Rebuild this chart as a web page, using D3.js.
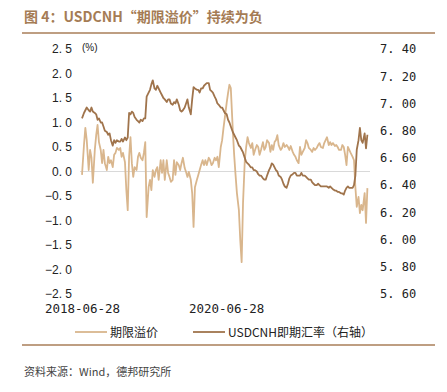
<!DOCTYPE html>
<html>
<head>
<meta charset="utf-8">
<script src="https://cdn.jsdelivr.net/npm/d3@7"></script>
<style>
  body { margin: 0; background: #fff; }
  svg { display: block; font-family: "Liberation Sans", Arial, "Noto Sans CJK SC", sans-serif; }
</style>
</head>
<body>
<div class="canvas"></div>
<script>
// roughly weekly readings (1st, 8th, 15th, 22nd of each month)
const dates = [
  '2018-06-28','2018-07-08','2018-07-15','2018-07-22','2018-08-01','2018-08-08','2018-08-15','2018-08-22','2018-09-01','2018-09-08','2018-09-15','2018-09-22',
  '2018-10-01','2018-10-08','2018-10-15','2018-10-22','2018-11-01','2018-11-08','2018-11-15','2018-11-22','2018-12-01','2018-12-08','2018-12-15','2018-12-22',
  '2019-01-01','2019-01-08','2019-01-15','2019-01-22','2019-02-01','2019-02-08','2019-02-15','2019-02-22','2019-03-01','2019-03-08','2019-03-15','2019-03-22',
  '2019-04-01','2019-04-08','2019-04-15','2019-04-22','2019-05-01','2019-05-08','2019-05-15','2019-05-22','2019-06-01','2019-06-08','2019-06-15','2019-06-22',
  '2019-07-01','2019-07-08','2019-07-15','2019-07-22','2019-08-01','2019-08-08','2019-08-15','2019-08-22','2019-09-01','2019-09-08','2019-09-15','2019-09-22',
  '2019-10-01','2019-10-08','2019-10-15','2019-10-22','2019-11-01','2019-11-08','2019-11-15','2019-11-22','2019-12-01','2019-12-08','2019-12-15','2019-12-22',
  '2020-01-01','2020-01-08','2020-01-15','2020-01-22','2020-02-01','2020-02-08','2020-02-15','2020-02-22','2020-03-01','2020-03-08','2020-03-15','2020-03-22',
  '2020-04-01','2020-04-08','2020-04-15','2020-04-22','2020-05-01','2020-05-08','2020-05-15','2020-05-22','2020-06-01','2020-06-08','2020-06-15','2020-06-22',
  '2020-07-01','2020-07-08','2020-07-15','2020-07-22','2020-08-01','2020-08-08','2020-08-15','2020-08-22','2020-09-01','2020-09-08','2020-09-15','2020-09-22',
  '2020-10-01','2020-10-08','2020-10-15','2020-10-22','2020-11-01','2020-11-08','2020-11-15','2020-11-22','2020-12-01','2020-12-08','2020-12-15','2020-12-22',
  '2021-01-01','2021-01-08','2021-01-15','2021-01-22','2021-02-01','2021-02-08','2021-02-15','2021-02-22','2021-03-01','2021-03-08','2021-03-15','2021-03-22',
  '2021-04-01','2021-04-08','2021-04-15','2021-04-22','2021-05-01','2021-05-08','2021-05-15','2021-05-22','2021-06-01','2021-06-08','2021-06-15','2021-06-22',
  '2021-07-01','2021-07-08','2021-07-15','2021-07-22','2021-08-01','2021-08-08','2021-08-15','2021-08-22','2021-09-01','2021-09-08','2021-09-15','2021-09-22',
  '2021-10-01','2021-10-08','2021-10-15','2021-10-22','2021-11-01','2021-11-08','2021-11-15','2021-11-22','2021-12-01','2021-12-08','2021-12-15','2021-12-22',
  '2022-01-01','2022-01-08','2022-01-15','2022-01-22','2022-02-01','2022-02-08','2022-02-15','2022-02-22','2022-03-01','2022-03-08','2022-03-15','2022-03-22',
  '2022-04-01','2022-04-08','2022-04-15','2022-04-22','2022-05-01','2022-05-08','2022-05-15','2022-05-22','2022-06-01','2022-06-08','2022-06-15'
];

// 期限溢价 (%), left axis
const termPremium = [
  -0.07, 0.54, 0.89, 0.64, 0.03, 0.44, 0.28, -0.23, 0.44, 0.74, 0.95, 0.60,
  0.44, 0.17, 0.44, 0.17, 0.03, 0.30, 0.17, 0.23, 0.09, 0.34, 0.38, 0.48,
  0.44, 0.48, 0.30, 0.38, 0.19, -0.38, -0.79, 0.30, 0.70, 0.17, -0.11, 0.09,
  0.03, 0.30, 0.38, 0.28, 0.23, 0.38, 0.60, -0.93, -0.32, -0.17, -0.38, 0.03,
  -0.11, 0.03, 0.09, -0.17, 0.23, -0.03, 0.23, -0.17, 0.23, -0.03, -0.11, -0.21,
  -0.17, 0.23, -0.07, 0.19, 0.13, 0.03, 0.17, 0.28, 0.07, -0.01, -0.11, -0.01,
  -0.17, -0.44, -1.13, -0.32, -0.17, -0.07, 0.03, 0.13, 0.23, 0.13, 0.23, 0.13,
  0.28, 0.23, 0.13, 0.17, 0.28, 0.23, 0.30, 0.09, 0.50, 0.64, 0.89, 1.11,
  1.40, 1.60, 1.77, 1.70, 0.85, 0.34, -0.07, -0.44, -0.79, -1.40, -1.85, -0.64,
  0.23, 0.50, 0.70, 0.58, 0.48, 0.58, 0.34, 0.44, 0.54, 0.50, 0.34, 0.44,
  0.60, 0.44, 0.50, 0.64, 0.58, 0.40, 0.54, 0.44, 0.60, 0.64, 0.74, 0.54,
  0.44, 0.48, 0.58, 0.50, 0.54, 0.50, 0.44, 0.52, 0.40, 0.34, 0.30, 0.23,
  0.17, 0.50, 0.34, 0.40, 0.48, 0.64, 0.58, 0.48, 0.44, 0.40, 0.48, 0.44,
  0.48, 0.54, 0.58, 0.50, 0.48, 0.58, 0.64, 0.70, 0.54, 0.60, 0.54, 0.58,
  0.52, 0.54, 0.50, 0.44, 0.44, 0.54, 0.50, 0.34, 0.13, 0.50, 0.44, 0.38,
  0.30, 0.23, -0.32, -0.72, -0.52, -0.85, -0.68, -0.79, -0.44, -1.05, -0.34
];

// USDCNH即期汇率, right axis
const usdcnh = [
  6.89, 6.93, 6.95, 6.97, 6.95, 6.94, 6.97, 6.94, 6.93, 6.92, 6.88, 6.89,
  6.86, 6.86, 6.83, 6.80, 6.79, 6.77, 6.78, 6.73, 6.69, 6.73, 6.71, 6.73,
  6.72, 6.72, 6.74, 6.72, 6.75, 6.73, 6.75, 6.93, 6.92, 6.94, 6.93, 6.90,
  6.88, 6.87, 6.86, 6.88, 6.87, 6.89, 6.89, 7.05, 7.08, 7.10, 7.14, 7.17,
  7.11, 7.10, 7.13, 7.11, 7.08, 7.06, 7.04, 7.03, 7.01, 7.03, 7.03, 7.00,
  6.99, 7.01, 7.00, 7.03, 6.99, 6.95, 6.94, 6.95, 6.97, 7.00, 7.03, 6.97,
  6.92, 7.03, 7.12, 7.11, 7.10, 7.10, 7.08, 7.11, 7.11, 7.13, 7.14, 7.15,
  7.15, 7.10, 7.09, 7.08, 7.05, 7.03, 7.00, 6.99, 6.97, 6.97, 6.95, 6.93,
  6.92, 6.88, 6.86, 6.83, 6.79, 6.77, 6.75, 6.73, 6.69, 6.68, 6.66, 6.64,
  6.60, 6.57, 6.56, 6.55, 6.53, 6.53, 6.51, 6.51, 6.50, 6.48, 6.47, 6.47,
  6.45, 6.44, 6.44, 6.47, 6.51, 6.53, 6.56, 6.55, 6.53, 6.51, 6.50, 6.47,
  6.46, 6.44, 6.41, 6.39, 6.38, 6.41, 6.45, 6.47, 6.48, 6.49, 6.49, 6.47,
  6.47, 6.47, 6.49, 6.47, 6.47, 6.46, 6.45, 6.44, 6.44, 6.42, 6.41, 6.40,
  6.40, 6.41, 6.40, 6.39, 6.39, 6.39, 6.39, 6.39, 6.38, 6.39, 6.38, 6.37,
  6.36, 6.36, 6.35, 6.35, 6.34, 6.34, 6.33, 6.36, 6.38, 6.39, 6.38, 6.38,
  6.38, 6.40, 6.47, 6.66, 6.73, 6.82, 6.73, 6.71, 6.78, 6.67, 6.77
];

const leftTicks = [2.5, 2.0, 1.5, 1.0, 0.5, 0.0, -0.5, -1.0, -1.5, -2.0, -2.5];
const rightTicks = [7.4, 7.2, 7.0, 6.8, 6.6, 6.4, 6.2, 6.0, 5.8, 5.6];
const xTickLabels = ['2018-06-28', '2020-06-28'];

const colours = { premium: '#d9b68d', spot: '#a0744c', title: '#a57c55', rule: '#a87e58' };
const dims = { width: 447, height: 392 };
const plot = { left: 82, right: 367.4, top: 49, bottom: 294 };

const parse = d3.timeParse('%Y-%m-%d');
const data = dates.map((d, i) => ({ date: parse(d), premium: termPremium[i], spot: usdcnh[i] }));

const svg = d3.select('.canvas')
    .append('svg')
    .attr('width', dims.width)
    .attr('height', dims.height);

const x = d3.scaleTime()
    .domain(d3.extent(data, d => d.date))
    .range([plot.left, plot.right]);
const yLeft = d3.scaleLinear().domain([-2.5, 2.5]).range([plot.bottom, plot.top]);
const yRight = d3.scaleLinear().domain([5.6, 7.4]).range([plot.bottom, plot.top]);

// title + rules
svg.append('text')
    .attr('x', 24).attr('y', 22)
    .attr('fill', colours.title)
    .attr('font-size', 14).attr('font-weight', 'bold')
    .attr('font-family', '"Noto Sans CJK SC", sans-serif')
    .text('图 4：USDCNH“期限溢价”持续为负');
svg.append('line')
    .attr('x1', 22).attr('x2', 435).attr('y1', 33).attr('y2', 33)
    .attr('stroke', colours.rule).attr('stroke-width', 1.5);
svg.append('line')
    .attr('x1', 22).attr('x2', 435).attr('y1', 345).attr('y2', 345)
    .attr('stroke', colours.rule).attr('stroke-width', 1.5);

// zero line
svg.append('line')
    .attr('x1', 80).attr('x2', 370)
    .attr('y1', yLeft(0)).attr('y2', yLeft(0))
    .attr('stroke', '#d9d9d9').attr('stroke-width', 1);

const fmt = f => v => d3.format(f)(v).replace('.', '. ');

const leftAxis = svg.append('g')
    .attr('transform', 'translate(72, 0)')
    .call(d3.axisLeft(yLeft).tickValues(leftTicks).tickSize(0).tickPadding(0).tickFormat(fmt('.1f')));
leftAxis.select('.domain').remove();
leftAxis.selectAll('text').attr('font-size', 12).attr('fill', '#222')
    .attr('font-family', '"Liberation Sans", Arial, sans-serif');

const rightAxis = svg.append('g')
    .attr('transform', 'translate(380, 0)')
    .call(d3.axisRight(yRight).tickValues(rightTicks).tickSize(0).tickPadding(0).tickFormat(fmt('.2f')));
rightAxis.select('.domain').remove();
rightAxis.selectAll('text').attr('font-size', 12).attr('fill', '#222')
    .attr('font-family', '"DejaVu Sans Mono", monospace');

svg.append('text')
    .attr('x', 82).attr('y', 51)
    .attr('font-size', 10).attr('fill', '#222')
    .text('(%)');

const xAxis = svg.append('g')
    .attr('transform', `translate(0, ${plot.bottom + 10})`)
    .call(d3.axisBottom(x).tickValues(xTickLabels.map(parse)).tickSize(0).tickPadding(0).tickFormat(d3.timeFormat('%Y-%m-%d')));
xAxis.select('.domain').remove();
xAxis.selectAll('text').attr('font-size', 12.5).attr('fill', '#222')
    .attr('font-family', '"DejaVu Sans Mono", monospace');

// lines
const premiumLine = d3.line().x(d => x(d.date)).y(d => yLeft(d.premium));
const spotLine = d3.line().x(d => x(d.date)).y(d => yRight(d.spot));

svg.append('path').datum(data)
    .attr('d', premiumLine)
    .attr('fill', 'none').attr('stroke', colours.premium)
    .attr('stroke-width', 1.8).attr('stroke-linejoin', 'round');
svg.append('path').datum(data)
    .attr('d', spotLine)
    .attr('fill', 'none').attr('stroke', colours.spot)
    .attr('stroke-width', 1.8).attr('stroke-linejoin', 'round');

// legend
const legend = [
  { label: '期限溢价', colour: colours.premium, x: 75 },
  { label: 'USDCNH即期汇率（右轴）', colour: colours.spot, x: 193 }
];
const legendGroup = svg.append('g').attr('transform', 'translate(0, 332)');
legendGroup.selectAll('line').data(legend).enter().append('line')
    .attr('x1', d => d.x).attr('x2', d => d.x + 32)
    .attr('y1', 0).attr('y2', 0)
    .attr('stroke', d => d.colour).attr('stroke-width', 1.8);
legendGroup.selectAll('text').data(legend).enter().append('text')
    .attr('x', d => d.x + 35).attr('y', 4.5)
    .attr('font-size', 12).attr('fill', '#222')
    .attr('font-family', '"Noto Sans CJK SC", sans-serif')
    .text(d => d.label);

// source
svg.append('text')
    .attr('x', 24).attr('y', 376)
    .attr('font-size', 11).attr('fill', '#444')
    .attr('font-family', '"Noto Sans CJK SC", sans-serif')
    .text('资料来源：Wind，德邦研究所');
</script>
</body>
</html>
